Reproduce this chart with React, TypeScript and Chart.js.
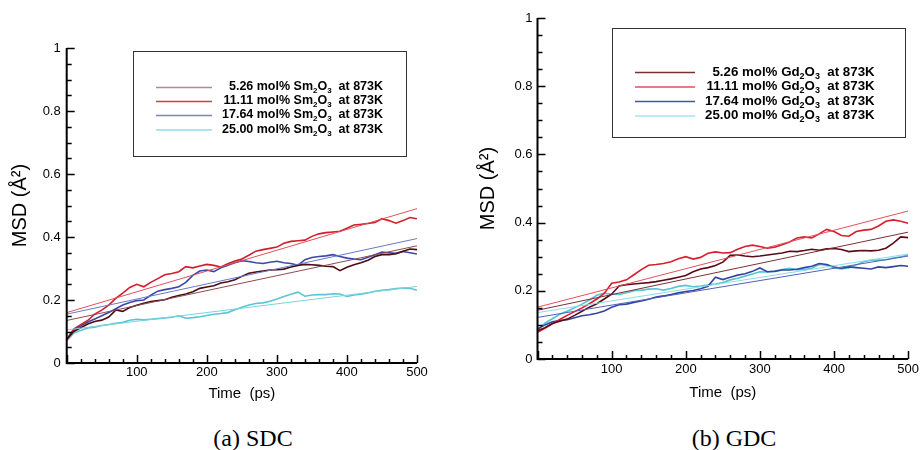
import React, { useEffect, useRef } from 'react';
import { Chart, registerables } from 'chart.js';

Chart.register(...registerables);

// ---------- data ----------
const TIME = [0, 10, 20, 30, 40, 50, 60, 70, 80, 90, 100, 110, 120, 130, 140, 150, 160, 170, 180, 190, 200,
  210, 220, 230, 240, 250, 260, 270, 280, 290, 300, 310, 320, 330, 340, 350, 360, 370, 380, 390, 400,
  410, 420, 430, 440, 450, 460, 470, 480, 490, 500];
const FIT_TIME = [0, 500];

const X_LABELS = [100, 200, 300, 400, 500];
const Y_LABELS = [0, 0.2, 0.4, 0.6, 0.8, 1];
const X_TICKS = [0, 20, 40, 60, 80, 100, 120, 140, 160, 180, 200, 220, 240, 260, 280, 300, 320, 340, 360, 380, 400, 420, 440, 460, 480, 500];
const Y_TICKS = [0, 0.05, 0.1, 0.15, 0.2, 0.25, 0.3, 0.35, 0.4, 0.45, 0.5, 0.55, 0.6, 0.65, 0.7, 0.75, 0.8, 0.85, 0.9, 0.95, 1];

const SDC_LABELS = ['5.26 mol% Sm₂O₃  at 873K', '11.11 mol% Sm₂O₃  at 873K', '17.64 mol% Sm₂O₃  at 873K', '25.00 mol% Sm₂O₃  at 873K'];
const GDC_LABELS = ['5.26 mol% Gd₂O₃  at 873K', '11.11 mol% Gd₂O₃  at 873K', '17.64 mol% Gd₂O₃  at 873K', '25.00 mol% Gd₂O₃  at 873K'];

const SDC_526 = [0.075, 0.1, 0.112, 0.124, 0.132, 0.136, 0.146, 0.168, 0.164, 0.176, 0.183, 0.19, 0.195, 0.198, 0.201, 0.209, 0.214, 0.219, 0.226, 0.237, 0.241,
  0.245, 0.254, 0.258, 0.264, 0.275, 0.285, 0.289, 0.292, 0.295, 0.296, 0.298, 0.305, 0.31, 0.313, 0.312, 0.31, 0.307, 0.306, 0.293, 0.304,
  0.312, 0.318, 0.326, 0.338, 0.344, 0.344, 0.347, 0.355, 0.362, 0.36];
const SDC_1111 = [0.075, 0.108, 0.122, 0.135, 0.155, 0.168, 0.184, 0.205, 0.222, 0.24, 0.25, 0.242, 0.256, 0.268, 0.28, 0.284, 0.29, 0.306, 0.302, 0.308, 0.313,
  0.31, 0.305, 0.315, 0.324, 0.33, 0.342, 0.355, 0.36, 0.364, 0.368, 0.38, 0.386, 0.388, 0.39, 0.402, 0.41, 0.414, 0.416, 0.418, 0.428,
  0.438, 0.44, 0.443, 0.446, 0.458, 0.452, 0.444, 0.452, 0.462, 0.458];
const SDC_1764 = [0.075, 0.105, 0.118, 0.13, 0.14, 0.15, 0.16, 0.172, 0.184, 0.192, 0.198, 0.2, 0.215, 0.228, 0.233, 0.237, 0.242, 0.256, 0.278, 0.292, 0.295,
  0.29, 0.302, 0.31, 0.318, 0.325, 0.322, 0.318, 0.316, 0.32, 0.323, 0.318, 0.316, 0.31, 0.328, 0.335, 0.338, 0.34, 0.344, 0.338, 0.333,
  0.33, 0.328, 0.336, 0.344, 0.352, 0.35, 0.348, 0.354, 0.35, 0.346];
const SDC_2500 = [0.07, 0.095, 0.103, 0.111, 0.114, 0.119, 0.122, 0.126, 0.129, 0.136, 0.139, 0.137, 0.139, 0.141, 0.143, 0.145, 0.15, 0.142, 0.144, 0.147, 0.151,
  0.155, 0.157, 0.16, 0.169, 0.177, 0.184, 0.189, 0.191, 0.196, 0.203, 0.211, 0.218, 0.225, 0.212, 0.216, 0.217, 0.217, 0.22, 0.219, 0.211,
  0.216, 0.218, 0.222, 0.228, 0.231, 0.233, 0.236, 0.238, 0.237, 0.231];
const SDC_FIT_526 = [0.135, 0.372];
const SDC_FIT_1111 = [0.16, 0.49];
const SDC_FIT_1764 = [0.155, 0.395];
const SDC_FIT_2500 = [0.105, 0.243];

const GDC_526 = [0.083, 0.092, 0.104, 0.111, 0.117, 0.128, 0.14, 0.152, 0.162, 0.176, 0.19, 0.214, 0.218, 0.22, 0.222, 0.224, 0.227, 0.231, 0.235, 0.24, 0.245,
  0.256, 0.264, 0.268, 0.274, 0.284, 0.304, 0.305, 0.302, 0.3, 0.302, 0.305, 0.308, 0.311, 0.316, 0.315, 0.318, 0.322, 0.319, 0.323, 0.324,
  0.321, 0.315, 0.317, 0.318, 0.317, 0.319, 0.325, 0.34, 0.358, 0.356];
const GDC_1111 = [0.078, 0.09, 0.103, 0.116, 0.128, 0.139, 0.15, 0.162, 0.176, 0.192, 0.222, 0.226, 0.232, 0.247, 0.262, 0.275, 0.277, 0.28, 0.285, 0.294, 0.3,
  0.293, 0.298, 0.31, 0.314, 0.311, 0.312, 0.322, 0.33, 0.334, 0.33, 0.325, 0.328, 0.335, 0.343, 0.355, 0.358, 0.355, 0.367, 0.38, 0.374,
  0.362, 0.36, 0.374, 0.378, 0.38, 0.39, 0.404, 0.408, 0.404, 0.398];
const GDC_1764 = [0.088, 0.1, 0.109, 0.113, 0.115, 0.121, 0.127, 0.13, 0.134, 0.141, 0.152, 0.159, 0.161, 0.166, 0.17, 0.175, 0.182, 0.185, 0.189, 0.194, 0.198,
  0.201, 0.206, 0.213, 0.24, 0.233, 0.24, 0.246, 0.25, 0.257, 0.267, 0.256, 0.257, 0.261, 0.261, 0.263, 0.268, 0.272, 0.28, 0.277, 0.27,
  0.266, 0.27, 0.268, 0.266, 0.264, 0.27, 0.268, 0.271, 0.274, 0.272];
const GDC_2500 = [0.085, 0.105, 0.118, 0.131, 0.14, 0.15, 0.161, 0.173, 0.187, 0.193, 0.19, 0.189, 0.194, 0.2, 0.202, 0.205, 0.206, 0.202, 0.207, 0.213, 0.216,
  0.212, 0.214, 0.217, 0.22, 0.224, 0.232, 0.237, 0.243, 0.249, 0.256, 0.255, 0.258, 0.262, 0.266, 0.262, 0.262, 0.266, 0.277, 0.275, 0.268,
  0.264, 0.267, 0.276, 0.285, 0.29, 0.29, 0.291, 0.296, 0.3, 0.305];
const GDC_FIT_526 = [0.143, 0.372];
const GDC_FIT_1111 = [0.152, 0.434];
const GDC_FIT_1764 = [0.122, 0.302];
const GDC_FIT_2500 = [0.136, 0.308];

// ---------- styling ----------
const SANS = '"Liberation Sans", Arial, Helvetica, sans-serif';
const SUBS: Record<string, string> = { '₂': '2', '₃': '3' };

const axesPlugin = {
  id: 'inwardAxes',
  afterDraw(chart: any) {
    const ctx = chart.ctx;
    const a = chart.chartArea;
    const xs = chart.scales.x;
    const ys = chart.scales.y;
    ctx.save();
    ctx.strokeStyle = '#000000';
    ctx.lineWidth = 1.5;
    ctx.beginPath();
    for (let i = 0; i < Y_TICKS.length; i++) {
      const major = i % 4 === 0;
      const py = Math.round(ys.getPixelForValue(Y_TICKS[i])) + 0.5;
      ctx.moveTo(a.left, py);
      ctx.lineTo(a.left + (major ? 8 : 5), py);
    }
    for (let i = 0; i < X_TICKS.length; i++) {
      const major = i % 5 === 0;
      const px = Math.round(xs.getPixelForValue(X_TICKS[i])) + 0.5;
      ctx.moveTo(px, a.bottom);
      ctx.lineTo(px, a.bottom - (major ? 8 : 4));
    }
    ctx.stroke();
    ctx.lineWidth = 2;
    ctx.beginPath();
    ctx.moveTo(a.left, a.top);
    ctx.lineTo(a.left, a.bottom);
    ctx.lineTo(a.right, a.bottom);
    ctx.stroke();
    ctx.restore();
  },
};

const legendPlugin = {
  id: 'boxLegend',
  afterDraw(chart: any, _args: any, opts: any) {
    const { ctx } = chart;
    const [bx1, by1, bx2, by2] = opts.box;
    ctx.save();
    ctx.strokeStyle = '#333';
    ctx.lineWidth = 1;
    ctx.strokeRect(bx1 + 0.5, by1 + 0.5, bx2 - bx1, by2 - by1);
    const size = opts.fontSize;
    const font = `bold ${size}px ${SANS}`;
    const subFont = `bold ${Math.round(size * 0.64)}px ${SANS}`;
    ctx.font = font;
    const numCol = opts.textX + ctx.measureText('00.00').width;
    const fits = chart.data.datasets.filter((d: any) => d.isFit);
    fits.forEach((d: any, i: number) => {
      const yy = opts.rows[i];
      ctx.strokeStyle = d.legendColor;
      ctx.lineWidth = 1.3;
      ctx.beginPath();
      ctx.moveTo(opts.lineX[0], yy + 0.5);
      ctx.lineTo(opts.lineX[1], yy + 0.5);
      ctx.stroke();
      const label: string = d.label;
      const sp = label.indexOf(' ');
      const num = label.slice(0, sp);
      const rest = label.slice(sp);
      ctx.fillStyle = '#000';
      ctx.textBaseline = 'middle';
      ctx.font = font;
      ctx.textAlign = 'right';
      ctx.fillText(num, numCol, yy);
      ctx.textAlign = 'left';
      let cx = numCol;
      let buf = '';
      const flush = () => {
        if (!buf) return;
        ctx.font = font;
        ctx.fillText(buf, cx, yy);
        cx += ctx.measureText(buf).width;
        buf = '';
      };
      for (const ch of rest) {
        if (SUBS[ch]) {
          flush();
          ctx.font = subFont;
          ctx.fillText(SUBS[ch], cx, yy + size * 0.32);
          cx += ctx.measureText(SUBS[ch]).width;
        } else {
          buf += ch;
        }
      }
      flush();
    });
    ctx.restore();
  },
};

type Spec = {
  labels: string[];
  curves: number[][];
  fits: number[][];
  curveColors: string[];
  fitColors: string[];
  legendColors: string[];
  padding: { left: number; top: number; right: number; bottom: number };
  yWidth: number;
  xHeight: number;
  yTitlePad: number;
  xTitlePad: number;
  yTickPad: number;
  xTickPad: number;
  legend: any;
};

const W = 461;
const H = 410;

const SDC_SPEC: Spec = {
  labels: SDC_LABELS,
  curves: [SDC_526, SDC_1111, SDC_1764, SDC_2500],
  fits: [SDC_FIT_526, SDC_FIT_1111, SDC_FIT_1764, SDC_FIT_2500],
  curveColors: ['#4a0c14', '#d01e2a', '#3a48a8', '#5cc4d4'],
  fitColors: ['#8c4c50', '#e0505c', '#6a78c4', '#78d4de'],
  legendColors: ['#b08c8c', '#d83a48', '#7884c4', '#8cdce6'],
  padding: { left: 0, top: 48, right: 44, bottom: 0 },
  yWidth: 66.7,
  xHeight: 47,
  yTitlePad: 8.5,
  xTitlePad: 7,
  yTickPad: 6,
  xTickPad: 2,
  legend: { box: [133, 51, 406, 156], lineX: [156, 212], textX: 222, rows: [87, 101, 115, 129.5], fontSize: 12.5 },
};

const GDC_SPEC: Spec = {
  labels: GDC_LABELS,
  curves: [GDC_526, GDC_1111, GDC_1764, GDC_2500],
  fits: [GDC_FIT_526, GDC_FIT_1111, GDC_FIT_1764, GDC_FIT_2500],
  curveColors: ['#5a0c16', '#d81e2c', '#3444a4', '#58c4d4'],
  fitColors: ['#7a3034', '#e4505c', '#5262b8', '#8cdce6'],
  legendColors: ['#7a3034', '#e05058', '#4454aa', '#a4e6ee'],
  padding: { left: 0, top: 18, right: 11, bottom: 0 },
  yWidth: 76.5,
  xHeight: 51,
  yTitlePad: 15,
  xTitlePad: 8,
  yTickPad: 5,
  xTickPad: 3,
  legend: { box: [151, 28, 444, 137], lineX: [174, 234], textX: 244, rows: [72, 86.5, 101, 115.5], fontSize: 13.3 },
};

function makeConfig(s: Spec): any {
  const datasets: any[] = [];
  s.fits.forEach((f, i) => {
    datasets.push({
      label: s.labels[i],
      data: FIT_TIME.map((t, k) => ({ x: t, y: f[k] })),
      borderColor: s.fitColors[i],
      borderWidth: 1,
      pointRadius: 0,
      tension: 0,
      fill: false,
      isFit: true,
      legendColor: s.legendColors[i],
    });
  });
  s.curves.forEach((c, i) => {
    datasets.push({
      label: s.labels[i] + ' (MD)',
      data: TIME.map((t, k) => ({ x: t, y: c[k] })),
      borderColor: s.curveColors[i],
      borderWidth: 1.6,
      pointRadius: 0,
      tension: 0,
      fill: false,
      isFit: false,
    });
  });
  return {
    type: 'line',
    data: { datasets },
    options: {
      animation: false,
      responsive: false,
      maintainAspectRatio: false,
      events: [],
      layout: { padding: s.padding, autoPadding: false },
      plugins: {
        legend: { display: false },
        tooltip: { enabled: false },
        boxLegend: s.legend,
      },
      scales: {
        x: {
          type: 'linear',
          min: 0,
          max: 500,
          grid: { display: false, drawTicks: false },
          border: { display: false },
          afterBuildTicks: (sc: any) => { sc.ticks = X_LABELS.map((v) => ({ value: v })); },
          afterFit: (sc: any) => { sc.height = s.xHeight; },
          ticks: { autoSkip: false, maxRotation: 0, padding: s.xTickPad, color: '#000', font: { family: SANS, size: 13 }, callback: (v: any) => String(v) },
          title: { display: true, text: 'Time  (ps)', color: '#000', font: { family: SANS, size: 15 }, padding: { top: 0, bottom: s.xTitlePad } },
        },
        y: {
          type: 'linear',
          min: 0,
          max: 1,
          grid: { display: false, drawTicks: false },
          border: { display: false },
          afterBuildTicks: (sc: any) => { sc.ticks = Y_LABELS.map((v) => ({ value: v })); },
          afterFit: (sc: any) => { sc.width = s.yWidth; },
          ticks: { autoSkip: false, padding: s.yTickPad, color: '#000', font: { family: SANS, size: 13 }, callback: (v: any) => String(v) },
          title: { display: true, text: 'MSD (Å²)', color: '#000', font: { family: SANS, size: 20 }, padding: { top: s.yTitlePad, bottom: 0 } },
        },
      },
    },
    plugins: [axesPlugin, legendPlugin],
  };
}

function Panel({ spec, left }: { spec: Spec; left: number }) {
  const ref = useRef<HTMLCanvasElement>(null);
  useEffect(() => {
    const chart = new Chart(ref.current as HTMLCanvasElement, makeConfig(spec));
    return () => chart.destroy();
  }, [spec]);
  return (
    <canvas
      ref={ref}
      width={W}
      height={H}
      style={{ position: 'absolute', left, top: 0, width: W, height: H }}
    />
  );
}

const captionStyle: React.CSSProperties = {
  position: 'absolute',
  top: 424,
  width: 200,
  textAlign: 'center',
  font: '24px "Liberation Serif", "Times New Roman", serif',
  lineHeight: '28px',
  color: '#000',
};

export default function App() {
  return (
    <div style={{ position: 'fixed', left: 0, top: 0, width: 922, height: 450, background: '#fff', overflow: 'hidden' }}>
      <Panel spec={SDC_SPEC} left={0} />
      <Panel spec={GDC_SPEC} left={461} />
      <div style={{ ...captionStyle, left: 153 }}>(a) SDC</div>
      <div style={{ ...captionStyle, left: 634 }}>(b) GDC</div>
    </div>
  );
}
